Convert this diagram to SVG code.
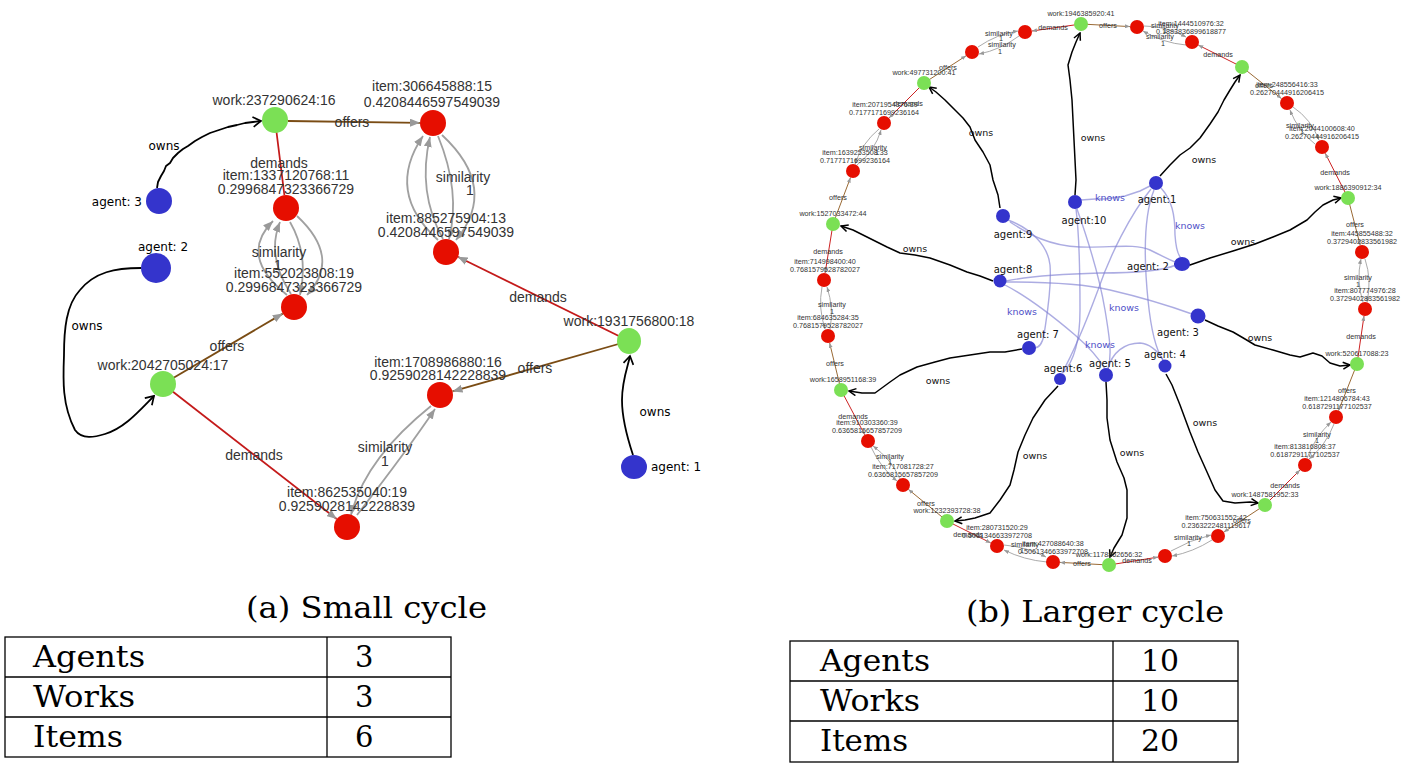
<svg xmlns="http://www.w3.org/2000/svg" width="1410" height="765" viewBox="0 0 1410 765">
<defs>
<style>
.lt{font-family:"Liberation Sans",Arial,sans-serif;font-size:14px;fill:#333;text-anchor:middle}
.la{font-family:"DejaVu Sans",sans-serif;font-size:12px;fill:#000}
.rt{font-family:"Liberation Sans",Arial,sans-serif;font-size:7.2px;fill:#333;text-anchor:middle}
.ra{font-family:"DejaVu Sans",sans-serif;font-size:10px;fill:#111;text-anchor:middle}
.kn{font-family:"DejaVu Sans",sans-serif;font-size:9.5px;fill:#5050c8;text-anchor:middle}
.ro{font-family:"DejaVu Sans",sans-serif;font-size:9.5px;fill:#111;text-anchor:middle}
.cap{font-family:"DejaVu Serif","Liberation Serif",serif;font-size:29px;fill:#000}
.red{fill:#e60e00}.grn{fill:#7be055}.blu{fill:#3434cc}
.off{stroke:#7a4c14;stroke-width:1.8;fill:none}
.dem{stroke:#c41a1a;stroke-width:1.8;fill:none}
.sim{stroke:#a0a0a0;stroke-width:1.8;fill:none}
.own{stroke:#000;stroke-width:1.8;fill:none;stroke-linejoin:round}
.roff{stroke:#9a6a35;stroke-width:1;fill:none}
.rdem{stroke:#cc2222;stroke-width:1;fill:none}
.rsim{stroke:#a0a0a0;stroke-width:0.9;fill:none}
.rown{stroke:#000;stroke-width:1.5;fill:none;stroke-linejoin:round}
.kw{stroke:#7f7fd2;stroke-opacity:0.65;stroke-width:1.4;fill:none}
.tl{stroke:#000;stroke-width:1.3;fill:none}
</style>
<marker id="la" markerUnits="userSpaceOnUse" markerWidth="10" markerHeight="8" viewBox="0 0 10 8" refX="10" refY="4" orient="auto"><path d="M0,0 L10,4 L0,8 z" fill="#999"/></marker>
<marker id="ra" markerUnits="userSpaceOnUse" markerWidth="5" markerHeight="4" viewBox="0 0 5 4" refX="5" refY="2" orient="auto"><path d="M0,0 L5,2 L0,4 z" fill="#999"/></marker>
<marker id="lo" markerUnits="userSpaceOnUse" markerWidth="12" markerHeight="12" viewBox="0 0 12 12" refX="10" refY="6" orient="auto"><path d="M2,1 L10,6 L2,11" fill="none" stroke="#000" stroke-width="1.7"/></marker>
<marker id="rv" markerUnits="userSpaceOnUse" markerWidth="9" markerHeight="9" viewBox="0 0 9 9" refX="8" refY="4.5" orient="auto"><path d="M1,1 L8,4.5 L1,8" fill="none" stroke="#000" stroke-width="1.5"/></marker>
</defs>
<rect width="1410" height="765" fill="#fff"/>

<!-- LEFT GRAPH CONNECTORS -->
<g id="connectors-left">
<path class="own" d="M157,188 L158,182 L161,176 L164,171 L166,166 L170,163 L173,158 L178,153 L183,149 L188,146 L195,141 L202,137 L210,133 L219,130 L228,127 L237,125 L245,123 L253,122 L261,121" marker-end="url(#lo)"/>
<path class="off" d="M288,121 L420,122.8" marker-end="url(#la)"/>
<path class="dem" d="M275,120 L284.4,195"/>
<path class="sim" d="M438,240 Q385,192 423,136" marker-end="url(#la)"/>
<path class="sim" d="M443,239 Q417,192 430,137" marker-end="url(#la)"/>
<path class="sim" d="M438,136 Q461,192 449,239" marker-end="url(#la)"/>
<path class="sim" d="M442,135 Q499,188 456,240" marker-end="url(#la)"/>
<path class="sim" d="M287,295 Q238,256 273,221" marker-end="url(#la)"/>
<path class="sim" d="M291,294 Q266,256 280,222" marker-end="url(#la)"/>
<path class="sim" d="M290,222 Q309,255 300,295" marker-end="url(#la)"/>
<path class="sim" d="M297,216 Q342,258 307,295" marker-end="url(#la)"/>
<path class="own" d="M141,268 C115,268 95,272 80,290 C66,305 64,330 64,355 C63,380 62,405 75,430 C82,440 95,437 105,434 C125,428 140,410 154,396" marker-end="url(#lo)"/>
<path class="off" d="M163,384 L282.8,313.6" marker-end="url(#la)"/>
<path class="dem" d="M163,384 L336.7,519" marker-end="url(#la)"/>
<path class="dem" d="M629,341 L457.7,256.7" marker-end="url(#la)"/>
<path class="off" d="M629,341 L452.5,391.4" marker-end="url(#la)"/>
<path class="sim" d="M357,515 Q406,452 435,409" marker-end="url(#la)"/>
<path class="sim" d="M431,406 Q365,459 351,515" marker-end="url(#la)"/>
<path class="own" d="M633,455 C628,440 622,420 622,400 C622,380 628,366 630,356" marker-end="url(#lo)"/>
<text class="la" x="164" y="150" text-anchor="middle">owns</text>
<text class="lt" x="352" y="127">offers</text>
<text class="lt" x="279" y="168">demands</text>
<text class="lt" x="463" y="182">similarity</text>
<text class="lt" x="470" y="195">1</text>
<text class="lt" x="279" y="257">similarity</text>
<text class="lt" x="278" y="270">1</text>
<text class="la" x="87" y="330" text-anchor="middle">owns</text>
<text class="lt" x="227" y="351">offers</text>
<text class="lt" x="254" y="460">demands</text>
<text class="lt" x="385" y="452">similarity</text>
<text class="lt" x="385" y="466">1</text>
<text class="lt" x="535" y="373">offers</text>
<text class="lt" x="538" y="302">demands</text>
<text class="la" x="655" y="416" text-anchor="middle">owns</text>
</g>

<!-- LEFT NODES -->
<g id="l-work-237290624"><circle class="grn" cx="275" cy="120" r="13"/><text class="lt" x="274" y="105">work:237290624:16</text></g>
<g id="l-item-306645888"><circle class="red" cx="433" cy="123" r="13"/><text class="lt" x="432" y="91">item:306645888:15</text><text class="lt" x="432" y="107">0.4208446597549039</text></g>
<g id="l-agent-3"><circle class="blu" cx="159" cy="201" r="13"/><text class="la" x="142" y="206" text-anchor="end">agent: 3</text></g>
<g id="l-item-1337120768"><circle class="red" cx="286" cy="208" r="13"/><text class="lt" x="286" y="180">item:1337120768:11</text><text class="lt" x="286" y="194">0.2996847323366729</text></g>
<g id="l-agent-2"><circle class="blu" cx="156" cy="268" r="15"/><text class="la" x="163" y="251" text-anchor="middle">agent: 2</text></g>
<g id="l-item-885275904"><circle class="red" cx="446" cy="252" r="13"/><text class="lt" x="446" y="223">item:885275904:13</text><text class="lt" x="446" y="237">0.4208446597549039</text></g>
<g id="l-item-552023808"><circle class="red" cx="294" cy="307" r="13"/><text class="lt" x="294" y="278">item:552023808:19</text><text class="lt" x="294" y="292">0.2996847323366729</text></g>
<g id="l-work-1931756800"><ellipse class="grn" cx="629" cy="341" rx="12" ry="13"/><text class="lt" x="629" y="326">work:1931756800:18</text></g>
<g id="l-work-2042705024"><circle class="grn" cx="163" cy="384" r="13"/><text class="lt" x="163" y="370">work:2042705024:17</text></g>
<g id="l-item-1708986880"><circle class="red" cx="440" cy="395" r="13"/><text class="lt" x="438" y="367">item:1708986880:16</text><text class="lt" x="438" y="380">0.9259028142228839</text></g>
<g id="l-agent-1"><ellipse class="blu" cx="634" cy="467" rx="13" ry="12"/><text class="la" x="651" y="471">agent: 1</text></g>
<g id="l-item-862535040"><circle class="red" cx="347" cy="527" r="13"/><text class="lt" x="347" y="497">item:862535040:19</text><text class="lt" x="347" y="511">0.9259028142228839</text></g>

<!-- RIGHT GRAPH CONNECTORS -->
<g id="connectors-right">
<!-- knows -->
<path class="kw" d="M1081,200 L1095,199 L1105,199 L1125,196 L1140,191 L1150,186"/>
<path class="kw" d="M1008,220 C1030,228 1048,245 1050,265 C1052,290 1046,320 1044,335 C1042,345 1038,348 1034,348"/>
<path class="kw" d="M1010,222 C1030,235 1050,246 1080,247 C1110,248 1135,243 1150,250 C1160,255 1170,260 1175,262"/>
<path class="kw" d="M1006,281 C1030,276 1060,274 1100,273 C1130,273 1160,272 1176,265"/>
<path class="kw" d="M1006,282 C1040,282 1080,283 1110,290 C1140,297 1170,306 1192,314"/>
<path class="kw" d="M1005,285 C1030,298 1055,318 1075,335 C1090,348 1100,360 1105,369"/>
<path class="kw" d="M1076,209 C1080,240 1080,280 1080,310 C1080,340 1075,360 1063,373"/>
<path class="kw" d="M1077,209 C1088,240 1100,280 1105,310 C1110,340 1112,355 1108,369"/>
<path class="kw" d="M1151,189 C1130,215 1110,255 1098,290 C1085,325 1072,355 1062,373"/>
<path class="kw" d="M1154,190 C1142,220 1145,270 1148,300 C1151,330 1156,350 1163,360"/>
<path class="kw" d="M1161,188 C1172,200 1175,215 1175,235 C1176,250 1179,256 1181,258"/>
<path class="kw" d="M1108,369 C1112,352 1125,343 1140,343 C1152,344 1160,355 1163,360"/>
<!-- offers / demands -->
<path class="roff" d="M1081,24 L1130,26.6" marker-end="url(#ra)"/>
<path class="rdem" d="M1081,24 L1031.9,31" marker-end="url(#ra)"/>
<path class="roff" d="M924,83 L966.1,55.8" marker-end="url(#ra)"/>
<path class="rdem" d="M924,83 L889,118" marker-end="url(#ra)"/>
<path class="roff" d="M833,224 L850.5,177.6" marker-end="url(#ra)"/>
<path class="rdem" d="M833,224 L825.1,273.1" marker-end="url(#ra)"/>
<path class="roff" d="M841,390 L829.6,342.8" marker-end="url(#ra)"/>
<path class="rdem" d="M841,390 L864.7,434.8" marker-end="url(#ra)"/>
<path class="roff" d="M947,521 L908.4,489.4" marker-end="url(#ra)"/>
<path class="rdem" d="M947,521 L990.7,542.9" marker-end="url(#ra)"/>
<path class="roff" d="M1109,565 L1060,562.4" marker-end="url(#ra)"/>
<path class="rdem" d="M1109,565 L1158.1,557.1" marker-end="url(#ra)"/>
<path class="roff" d="M1265,505 L1223.8,532.1" marker-end="url(#ra)"/>
<path class="rdem" d="M1265,505 L1300,470" marker-end="url(#ra)"/>
<path class="roff" d="M1357,364 L1338.6,410.5" marker-end="url(#ra)"/>
<path class="rdem" d="M1357,364 L1364,315.9" marker-end="url(#ra)"/>
<path class="roff" d="M1348,198 L1360.2,245.2" marker-end="url(#ra)"/>
<path class="rdem" d="M1348,198 L1325.2,153.2" marker-end="url(#ra)"/>
<path class="roff" d="M1242,67 L1281.5,98.6" marker-end="url(#ra)"/>
<path class="rdem" d="M1242,67 L1198.3,45.1" marker-end="url(#ra)"/>
<!-- similarity -->
<path class="rsim" d="M978,47 Q997,34 1018,31" marker-end="url(#ra)"/>
<path class="rsim" d="M1019,36 Q1000,50 979,54" marker-end="url(#ra)"/>
<path class="rsim" d="M1144,26 Q1166,26 1186,37" marker-end="url(#ra)"/>
<path class="rsim" d="M1186,45 Q1163,43 1143,31" marker-end="url(#ra)"/>
<path class="rsim" d="M1293,107 Q1311,119 1319,140" marker-end="url(#ra)"/>
<path class="rsim" d="M1315,144 Q1298,131 1290,110" marker-end="url(#ra)"/>
<path class="rsim" d="M1365,259 Q1372,280 1367,302" marker-end="url(#ra)"/>
<path class="rsim" d="M1363,302 Q1356,281 1361,259" marker-end="url(#ra)"/>
<path class="rsim" d="M1334,424 Q1326,445 1309,459" marker-end="url(#ra)"/>
<path class="rsim" d="M1307,458 Q1315,437 1331,422" marker-end="url(#ra)"/>
<path class="rsim" d="M1212,540 Q1193,552 1172,556" marker-end="url(#ra)"/>
<path class="rsim" d="M1171,551 Q1190,540 1211,535" marker-end="url(#ra)"/>
<path class="rsim" d="M1047,562 Q1024,560 1004,550" marker-end="url(#ra)"/>
<path class="rsim" d="M1004,545 Q1027,547 1046,557" marker-end="url(#ra)"/>
<path class="rsim" d="M900,479 Q891,459 873,446" marker-end="url(#ra)"/>
<path class="rsim" d="M871,447 Q880,467 897,481" marker-end="url(#ra)"/>
<path class="rsim" d="M830,329 Q834,308 827,287" marker-end="url(#ra)"/>
<path class="rsim" d="M822,287 Q818,308 825,329" marker-end="url(#ra)"/>
<path class="rsim" d="M857,165 Q875,151 881,130" marker-end="url(#ra)"/>
<path class="rsim" d="M879,129 Q862,143 855,164" marker-end="url(#ra)"/>
<!-- owns -->
<path class="rown" d="M1000,208 L998,195 L993,180 L990,165 L983,152 L975,140 L970,127 L963,118 L955,110 L945,100 L936,92 L929,87" marker-end="url(#rv)"/>
<path class="rown" d="M1075,195 L1076,180 L1075,160 L1074,140 L1073,120 L1072,100 L1070,80 L1068,65 L1072,52 L1076,42 L1080,33" marker-end="url(#rv)"/>
<path class="rown" d="M1160,176 L1170,165 L1180,155 L1190,148 L1200,138 L1210,124 L1218,112 L1224,100 L1230,90 L1235,82 L1240,75" marker-end="url(#rv)"/>
<path class="rown" d="M1174,264 L1190,265 L1210,258 L1233,251 L1255,244 L1273,237 L1290,230 L1307,220 L1315,212 L1323,205 L1333,200 L1341,198" marker-end="url(#rv)"/>
<path class="rown" d="M1205,320 L1218,326 L1233,332 L1245,339 L1255,345 L1273,350 L1290,355 L1300,357 L1313,353 L1322,356 L1330,363 L1340,366 L1350,365" marker-end="url(#rv)"/>
<path class="rown" d="M1166,374 L1172,385 L1180,405 L1190,432 L1198,452 L1207,472 L1215,490 L1223,501 L1235,503 L1250,502 L1258,503" marker-end="url(#rv)"/>
<path class="rown" d="M1106,382 L1107,400 L1107,418 L1110,440 L1117,462 L1124,478 L1127,490 L1127,518 L1122,535 L1114,548 L1110,557" marker-end="url(#rv)"/>
<path class="rown" d="M1058,386 L1045,400 L1033,418 L1025,435 L1018,452 L1014,470 L1010,485 L1000,500 L990,513 L975,518 L965,520 L955,521" marker-end="url(#rv)"/>
<path class="rown" d="M1022,349 L1005,352 L990,352 L970,355 L950,358 L935,362 L917,367 L900,375 L890,382 L875,393 L862,393 L849,391" marker-end="url(#rv)"/>
<path class="rown" d="M993,281 L980,276 L967,272 L950,265 L930,258 L915,255 L900,253 L887,247 L877,242 L865,236 L853,230 L841,226" marker-end="url(#rv)"/>
<!-- edge labels -->
<text class="rt" x="1053" y="30">demands</text>
<text class="rt" x="1108" y="27.5">offers</text>
<text class="rt" x="999" y="35.5">similarity</text>
<text class="rt" x="1001" y="40.5">1</text>
<text class="rt" x="1002" y="46.5">similarity</text>
<text class="rt" x="1000" y="53.5">1</text>
<text class="rt" x="1165" y="27.5">similarity</text>
<text class="rt" x="1165" y="33">1</text>
<text class="rt" x="1160" y="38.5">similarity</text>
<text class="rt" x="1163" y="46">1</text>
<text class="rt" x="1218" y="57">demands</text>
<text class="rt" x="1264" y="87.5">offers</text>
<text class="rt" x="1300" y="127.5">similarity</text>
<text class="rt" x="1302" y="133.5">1</text>
<text class="rt" x="1335" y="175">demands</text>
<text class="rt" x="1355" y="227">offers</text>
<text class="rt" x="1358" y="279.5">similarity</text>
<text class="rt" x="1358" y="286.5">1</text>
<text class="rt" x="1361" y="339">demands</text>
<text class="rt" x="1347" y="393">offers</text>
<text class="rt" x="1317" y="436.5">similarity</text>
<text class="rt" x="1317" y="442.5">1</text>
<text class="rt" x="1285" y="487.5">demands</text>
<text class="rt" x="1242" y="522.5">offers</text>
<text class="rt" x="1188" y="539.5">similarity</text>
<text class="rt" x="1189" y="545.5">1</text>
<text class="rt" x="1137" y="563">demands</text>
<text class="rt" x="1082" y="566">offers</text>
<text class="rt" x="1025" y="546.5">similarity</text>
<text class="rt" x="1022" y="552.5">1</text>
<text class="rt" x="968" y="536.5">demands</text>
<text class="rt" x="926" y="505.5">offers</text>
<text class="rt" x="890" y="458.5">similarity</text>
<text class="rt" x="890" y="463.5">1</text>
<text class="rt" x="853" y="418.5">demands</text>
<text class="rt" x="835" y="366">offers</text>
<text class="rt" x="832" y="306.5">similarity</text>
<text class="rt" x="832" y="313.5">1</text>
<text class="rt" x="828" y="253.5">demands</text>
<text class="rt" x="838" y="200">offers</text>
<text class="rt" x="873" y="149.5">similarity</text>
<text class="rt" x="877" y="155">1</text>
<text class="rt" x="908" y="105.5">demands</text>
<text class="rt" x="948" y="70">offers</text>
<text class="kn" x="1110" y="201">knows</text>
<text class="kn" x="1190" y="229">knows</text>
<text class="kn" x="1022" y="315">knows</text>
<text class="kn" x="1124" y="311">knows</text>
<text class="kn" x="1100" y="348">knows</text>
<text class="ro" x="981" y="136">owns</text>
<text class="ro" x="1093" y="141">owns</text>
<text class="ro" x="1204" y="163">owns</text>
<text class="ro" x="1243" y="245">owns</text>
<text class="ro" x="1260" y="341">owns</text>
<text class="ro" x="1205" y="426">owns</text>
<text class="ro" x="1132" y="456">owns</text>
<text class="ro" x="1035" y="459">owns</text>
<text class="ro" x="938" y="384">owns</text>
<text class="ro" x="915" y="252">owns</text>
</g>

<!-- RIGHT NODES -->
<g id="r-work-1946385920"><circle class="grn" cx="1081" cy="24" r="7"/><text class="rt" x="1081" y="15.5">work:1946385920:41</text></g>
<g id="r-item-a"><circle class="red" cx="1137" cy="27" r="7"/></g>
<g id="r-item-1444510976"><circle class="red" cx="1192" cy="42" r="7"/><text class="rt" x="1191" y="26">item:1444510976:32</text><text class="rt" x="1191" y="33.5">0.1883836899618877</text></g>
<g id="r-work-b"><circle class="grn" cx="1242" cy="67" r="7"/></g>
<g id="r-item-248556416"><circle class="red" cx="1287" cy="103" r="7"/><text class="rt" x="1287" y="87">item:248556416:33</text><text class="rt" x="1287" y="94.5">0.26270444916206415</text></g>
<g id="r-item-2044100608"><circle class="red" cx="1322" cy="147" r="7"/><text class="rt" x="1322" y="131">item:2044100608:40</text><text class="rt" x="1322" y="138.5">0.26270444916206415</text></g>
<g id="r-work-1886390912"><circle class="grn" cx="1348" cy="198" r="7"/><text class="rt" x="1348" y="189.5">work:1886390912:34</text></g>
<g id="r-item-445855488"><circle class="red" cx="1362" cy="252" r="7"/><text class="rt" x="1362" y="236">item:445855488:32</text><text class="rt" x="1362" y="243.5">0.3729402833561982</text></g>
<g id="r-item-807774976"><circle class="red" cx="1365" cy="309" r="7"/><text class="rt" x="1365" y="293">item:807774976:28</text><text class="rt" x="1365" y="300.5">0.3729402833561982</text></g>
<g id="r-work-520617088"><circle class="grn" cx="1357" cy="364" r="7"/><text class="rt" x="1357" y="355.5">work:520617088:23</text></g>
<g id="r-item-1214806784"><circle class="red" cx="1336" cy="417" r="7"/><text class="rt" x="1337" y="401">item:1214806784:43</text><text class="rt" x="1337" y="408.5">0.6187291177102537</text></g>
<g id="r-item-813816808"><circle class="red" cx="1305" cy="465" r="7"/><text class="rt" x="1305" y="449">item:813816808:37</text><text class="rt" x="1305" y="456.5">0.6187291177102537</text></g>
<g id="r-work-1487581952"><circle class="grn" cx="1265" cy="505" r="7"/><text class="rt" x="1265" y="496.5">work:1487581952:33</text></g>
<g id="r-item-750631552"><circle class="red" cx="1218" cy="536" r="7"/><text class="rt" x="1216" y="520">item:750631552:42</text><text class="rt" x="1216" y="527.5">0.2363222481119617</text></g>
<g id="r-item-c"><circle class="red" cx="1165" cy="556" r="7"/></g>
<g id="r-work-1178862656"><circle class="grn" cx="1109" cy="565" r="7"/><text class="rt" x="1109" y="556.5">work:1178862656:32</text></g>
<g id="r-item-427088640"><circle class="red" cx="1053" cy="562" r="7"/><text class="rt" x="1053" y="546">item:427088640:38</text><text class="rt" x="1053" y="553.5">0.5061346633972708</text></g>
<g id="r-item-280731520"><circle class="red" cx="997" cy="546" r="7"/><text class="rt" x="997" y="530">item:280731520:29</text><text class="rt" x="997" y="537.5">0.5061346633972708</text></g>
<g id="r-work-1232393728"><circle class="grn" cx="947" cy="521" r="7"/><text class="rt" x="947" y="512.5">work:1232393728:38</text></g>
<g id="r-item-717081728"><circle class="red" cx="903" cy="485" r="7"/><text class="rt" x="903" y="469">item:717081728:27</text><text class="rt" x="903" y="476.5">0.6365815657857209</text></g>
<g id="r-item-910303360"><circle class="red" cx="868" cy="441" r="7"/><text class="rt" x="867" y="425">item:910303360:39</text><text class="rt" x="867" y="432.5">0.6365815657857209</text></g>
<g id="r-work-1658951168"><circle class="grn" cx="841" cy="390" r="7"/><text class="rt" x="843" y="381.5">work:1658951168:39</text></g>
<g id="r-item-684635284"><circle class="red" cx="828" cy="336" r="7"/><text class="rt" x="828" y="320">item:684635284:35</text><text class="rt" x="828" y="327.5">0.7681579528782027</text></g>
<g id="r-item-714998400"><circle class="red" cx="824" cy="280" r="7"/><text class="rt" x="825" y="264">item:714998400:40</text><text class="rt" x="825" y="271.5">0.7681579528782027</text></g>
<g id="r-work-1527033472"><circle class="grn" cx="833" cy="224" r="7"/><text class="rt" x="833" y="215.5">work:1527033472:44</text></g>
<g id="r-item-1639253508"><circle class="red" cx="853" cy="171" r="7"/><text class="rt" x="855" y="155">item:1639253508:33</text><text class="rt" x="855" y="162.5">0.7177171699236164</text></g>
<g id="r-item-2071954376"><circle class="red" cx="884" cy="123" r="7"/><text class="rt" x="885" y="107">item:2071954376:39</text><text class="rt" x="884" y="114.5">0.7177171699236164</text></g>
<g id="r-work-497731200"><circle class="grn" cx="924" cy="83" r="7"/><text class="rt" x="924" y="74.5">work:497731200:41</text></g>
<g id="r-item-d"><circle class="red" cx="972" cy="52" r="7"/></g>
<g id="r-item-e"><circle class="red" cx="1025" cy="32" r="7"/></g>

<g id="r-agent-10"><circle class="blu" cx="1075" cy="202" r="7"/><text class="ra" x="1084" y="224">agent:10</text></g>
<g id="r-agent-1"><circle class="blu" cx="1156" cy="183" r="7"/><text class="ra" x="1157" y="203">agent:1</text></g>
<g id="r-agent-9"><circle class="blu" cx="1003" cy="216" r="7"/><text class="ra" x="1013" y="238">agent:9</text></g>
<g id="r-agent-2"><ellipse class="blu" cx="1182" cy="264" rx="8" ry="7"/><text class="ra" x="1148" y="270">agent: 2</text></g>
<g id="r-agent-8"><circle class="blu" cx="1000" cy="281" r="6.5"/><text class="ra" x="1013" y="273">agent:8</text></g>
<g id="r-agent-3"><circle class="blu" cx="1198" cy="316" r="7.5"/><text class="ra" x="1178" y="336">agent: 3</text></g>
<g id="r-agent-7"><circle class="blu" cx="1029" cy="348" r="7"/><text class="ra" x="1038" y="338">agent: 7</text></g>
<g id="r-agent-4"><circle class="blu" cx="1165" cy="366" r="6.5"/><text class="ra" x="1165" y="358">agent: 4</text></g>
<g id="r-agent-5"><circle class="blu" cx="1106" cy="375" r="7"/><text class="ra" x="1110" y="367">agent: 5</text></g>
<g id="r-agent-6"><circle class="blu" cx="1060" cy="379" r="6"/><text class="ra" x="1063" y="372">agent:6</text></g>

<!-- CAPTIONS AND TABLES -->
<g id="caption-a"><text class="cap" x="246" y="618" textLength="241" lengthAdjust="spacingAndGlyphs">(a) Small cycle</text></g>
<g id="caption-b"><text class="cap" x="966" y="622" textLength="258" lengthAdjust="spacingAndGlyphs">(b) Larger cycle</text></g>

<g id="table-a">
<rect class="tl" x="5" y="637" width="446" height="120"/>
<line class="tl" x1="5" y1="677" x2="451" y2="677"/>
<line class="tl" x1="5" y1="717" x2="451" y2="717"/>
<line class="tl" x1="327" y1="637" x2="327" y2="757"/>
<text class="cap" x="33" y="667" textLength="112" lengthAdjust="spacingAndGlyphs">Agents</text>
<text class="cap" x="355" y="667">3</text>
<text class="cap" x="33" y="707" textLength="102" lengthAdjust="spacingAndGlyphs">Works</text>
<text class="cap" x="355" y="707">3</text>
<text class="cap" x="33" y="747" textLength="90" lengthAdjust="spacingAndGlyphs">Items</text>
<text class="cap" x="355" y="747">6</text>
</g>

<g id="table-b">
<rect class="tl" x="790" y="641" width="448" height="121"/>
<line class="tl" x1="790" y1="681" x2="1238" y2="681"/>
<line class="tl" x1="790" y1="721" x2="1238" y2="721"/>
<line class="tl" x1="1113" y1="641" x2="1113" y2="762"/>
<text class="cap" x="820" y="671" textLength="110" lengthAdjust="spacingAndGlyphs">Agents</text>
<text class="cap" x="1141" y="671" textLength="38" lengthAdjust="spacingAndGlyphs">10</text>
<text class="cap" x="820" y="711" textLength="100" lengthAdjust="spacingAndGlyphs">Works</text>
<text class="cap" x="1141" y="711" textLength="38" lengthAdjust="spacingAndGlyphs">10</text>
<text class="cap" x="820" y="751" textLength="88" lengthAdjust="spacingAndGlyphs">Items</text>
<text class="cap" x="1141" y="751" textLength="38" lengthAdjust="spacingAndGlyphs">20</text>
</g>
</svg>
